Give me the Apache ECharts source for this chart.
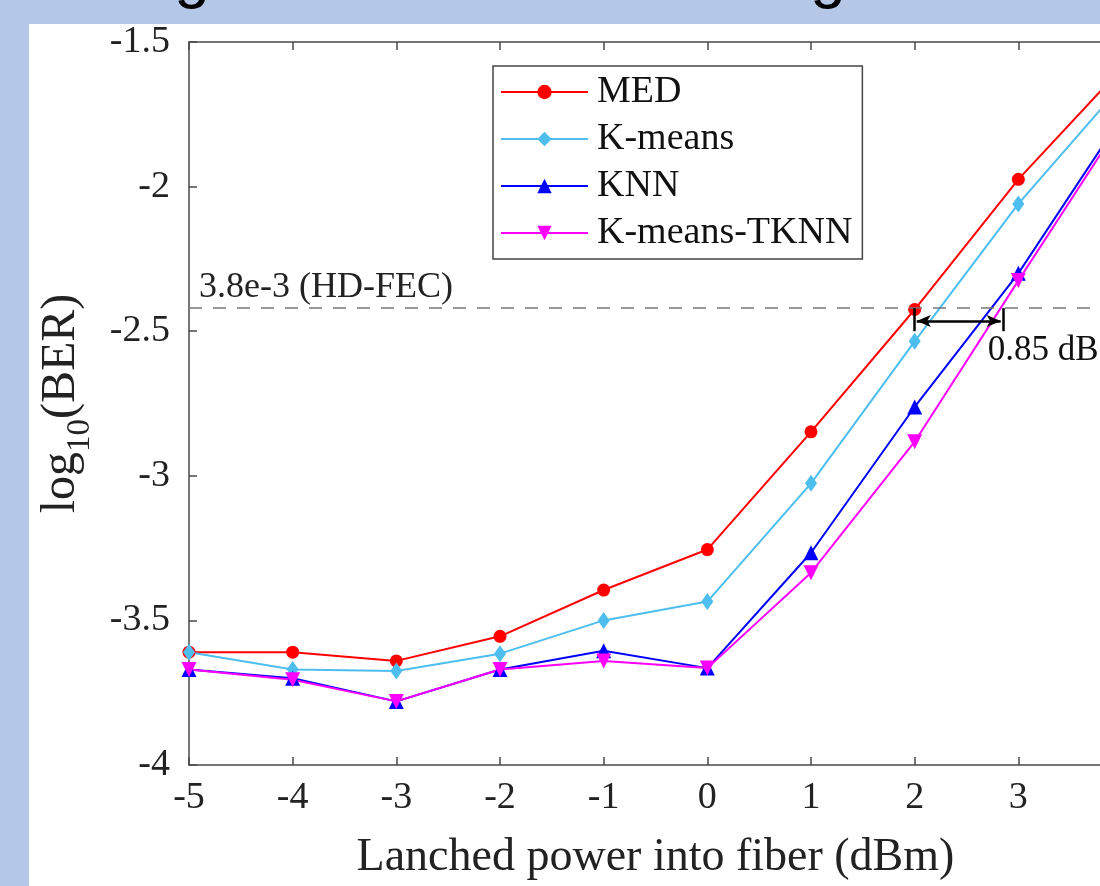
<!DOCTYPE html>
<html>
<head>
<meta charset="utf-8">
<script src="https://cdn.jsdelivr.net/npm/echarts@6/dist/echarts.min.js"></script>
<style>
html, body { margin: 0; padding: 0; overflow: hidden; background: #b4c7e7; }
#chart { width: 1160px; height: 886px; }
</style>
</head>
<body>
<div id="chart"></div>
<script>
// launched power (dBm) and log10(BER)
var power = [-5, -4, -3, -2, -1, 0, 1, 2, 3, 4];
var medBer = [-3.61, -3.61, -3.64, -3.555, -3.395, -3.255, -2.848, -2.425, -1.975, -1.59];
var kmeansBer = [-3.61, -3.67, -3.675, -3.615, -3.50, -3.435, -3.026, -2.535, -2.06, -1.648];
var knnBer = [-3.67, -3.70, -3.78, -3.67, -3.605, -3.665, -3.266, -2.762, -2.30, -1.758];
var tknnBer = [-3.67, -3.705, -3.78, -3.67, -3.64, -3.665, -3.335, -2.882, -2.325, -1.774];
var hdFec = Math.log10(3.8e-3);

var serif = 'Liberation Serif';
var axisColor = '#4a4a4a';

function pairs(ys) {
    return power.map(function (x, i) { return [x, ys[i]]; });
}

function makeSeries(name, ys, color, symbol, size, rotate) {
    return {
        name: name,
        type: 'line',
        data: pairs(ys),
        symbol: symbol,
        symbolSize: size,
        symbolRotate: rotate || 0,
        lineStyle: { color: color, width: 2 },
        itemStyle: { color: color },
        emphasis: { disabled: true }
    };
}

var chart = echarts.init(document.getElementById('chart'));

var medSeries = makeSeries('MED', medBer, '#ff0000', 'circle', 13);
var kmSeries = makeSeries('K-means', kmeansBer, '#4dbeee', 'diamond', [12, 17]);
var knnSeries = makeSeries('KNN', knnBer, '#0000ff', 'triangle', 15);
var tknnSeries = makeSeries('K-means-TKNN', tknnBer, '#ff00ff', 'triangle', 15, 180);

// HD-FEC threshold
medSeries.markLine = {
    silent: true,
    symbol: 'none',
    lineStyle: { color: '#777', width: 1.5, type: [13, 11] },
    label: {
        show: true,
        position: 'insideStartTop',
        formatter: '3.8e-3 (HD-FEC)',
        fontFamily: serif,
        fontSize: 36,
        color: '#222',
        distance: [10, 3]
    },
    data: [{ yAxis: hdFec }]
};

// 0.85 dB gain annotation
knnSeries.markLine = {
    silent: true,
    symbol: 'none',
    lineStyle: { color: '#000', width: 2.5, type: 'solid' },
    label: { show: false },
    data: [
        [{ coord: [2, hdFec] }, { coord: [2, -2.50] }],
        [{ coord: [2.85, hdFec] }, { coord: [2.85, -2.50] }],
        [{ coord: [2.02, -2.465], symbol: 'arrow', symbolSize: [9, 14] },
         { coord: [2.83, -2.465], symbol: 'arrow', symbolSize: [9, 14] }]
    ]
};
knnSeries.markPoint = {
    silent: true,
    symbol: 'rect',
    symbolSize: 1,
    itemStyle: { color: 'rgba(0,0,0,0)' },
    label: {
        show: true,
        position: 'right',
        distance: 0,
        formatter: '0.85 dB',
        fontFamily: serif,
        fontSize: 35,
        color: '#111'
    },
    data: [{ coord: [2.70, -2.567] }]
};

var option = {
    animation: false,
    backgroundColor: '#b4c7e7',
    graphic: {
        elements: [
            { type: 'rect', z: -10, silent: true,
              shape: { x: 29, y: 24, width: 1131, height: 862 },
              style: { fill: '#fff' } },
            // tails of the slide title, cut off by the top edge
            { type: 'text', silent: true, x: 192, y: -54,
              style: { text: 'g', fontFamily: 'Liberation Sans', fontSize: 64, fill: '#000',
                       align: 'center', verticalAlign: 'top' } },
            { type: 'text', silent: true, x: 828, y: -54,
              style: { text: 'g', fontFamily: 'Liberation Sans', fontSize: 64, fill: '#000',
                       align: 'center', verticalAlign: 'top' } }
        ]
    },
    grid: { left: 189, right: 38, top: 42, bottom: 120 },
    legend: {
        orient: 'vertical',
        left: 493,
        top: 66,
        itemWidth: 87,
        itemHeight: 18,
        itemGap: 9,
        padding: [7, 10, 7, 7],
        borderColor: '#444',
        borderWidth: 1.5,
        backgroundColor: '#fff',
        textStyle: { fontFamily: serif, fontSize: 38, color: '#111', padding: [0, 0, 0, 4] },
        data: ['MED', 'K-means', 'KNN', 'K-means-TKNN']
    },
    xAxis: [{
        type: 'value',
        min: -5,
        max: 4,
        interval: 1,
        position: 'bottom',
        name: 'Lanched power into fiber (dBm)',
        nameLocation: 'middle',
        nameGap: 70,
        nameTextStyle: { fontFamily: serif, fontSize: 46, color: '#222' },
        axisLine: { onZero: false, lineStyle: { color: axisColor, width: 1.5 } },
        axisTick: { inside: true, length: 8, lineStyle: { color: axisColor, width: 1.5 } },
        axisLabel: { fontFamily: serif, fontSize: 38, color: '#222', margin: 14 },
        splitLine: { show: false }
    }, {
        type: 'value',
        min: -5,
        max: 4,
        interval: 1,
        position: 'top',
        axisLine: { onZero: false, lineStyle: { color: axisColor, width: 1.5 } },
        axisTick: { inside: true, length: 8, lineStyle: { color: axisColor, width: 1.5 } },
        axisLabel: { show: false },
        splitLine: { show: false }
    }],
    yAxis: [{
        type: 'value',
        min: -4,
        max: -1.5,
        interval: 0.5,
        position: 'left',
        name: '{a|log}{b|10}{a|(BER)}',
        nameLocation: 'middle',
        nameRotate: 90,
        nameGap: 92,
        nameTextStyle: {
            rich: {
                a: { fontFamily: serif, fontSize: 48, color: '#222', lineHeight: 72, verticalAlign: 'middle' },
                b: { fontFamily: serif, fontSize: 33, color: '#222', lineHeight: 33, verticalAlign: 'bottom' }
            }
        },
        axisLine: { onZero: false, lineStyle: { color: axisColor, width: 1.5 } },
        axisTick: { inside: true, length: 8, lineStyle: { color: axisColor, width: 1.5 } },
        axisLabel: { fontFamily: serif, fontSize: 38, color: '#222', margin: 19 },
        splitLine: { show: false }
    }, {
        type: 'value',
        min: -4,
        max: -1.5,
        interval: 0.5,
        position: 'right',
        axisLine: { onZero: false, lineStyle: { color: axisColor, width: 1.5 } },
        axisTick: { inside: true, length: 8, lineStyle: { color: axisColor, width: 1.5 } },
        axisLabel: { show: false },
        splitLine: { show: false }
    }],
    series: [medSeries, kmSeries, knnSeries, tknnSeries]
};

chart.setOption(option);
</script>
</body>
</html>
